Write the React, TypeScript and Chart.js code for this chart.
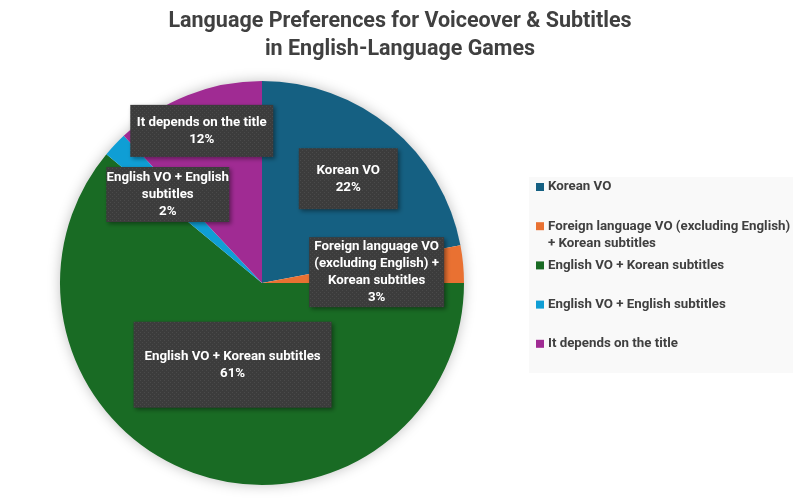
import { useEffect, useRef } from "react"
import { Chart, registerables } from "chart.js"

Chart.register(...registerables)

const categories = [
    "Korean VO",
    "Foreign language VO (excluding English) + Korean subtitles",
    "English VO + Korean subtitles",
    "English VO + English subtitles",
    "It depends on the title",
]
const shares = [22, 3, 61, 2, 12]
const colors = ["#156082", "#E97132", "#196B24", "#0F9ED5", "#A02B93"]
const titleLines = ["Language Preferences for Voiceover & Subtitles", "in English-Language Games"]

// data label boxes: distance along slice middle (share of radius), box size
const labelDist = [0.67, 0.57, 0.43, 0.64, 0.81]
const labelBoxW = [99, 135, 198, 123, 143]
const labelBoxH = [61, 70, 86, 55, 52]

const FONT = "Roboto"
const TEXT = "#404040"

function wrap(ctx: CanvasRenderingContext2D, text: string, maxW: number) {
    const words = text.split(" ")
    const lines: string[] = []
    let cur = ""
    for (const w of words) {
        const test = cur ? cur + " " + w : w
        if (cur && ctx.measureText(test).width > maxW) {
            lines.push(cur)
            cur = w
        } else {
            cur = test
        }
    }
    if (cur) lines.push(cur)
    return lines
}

function makePattern(ctx: CanvasRenderingContext2D) {
    const c = document.createElement("canvas")
    c.width = 4
    c.height = 4
    const p = c.getContext("2d")!
    p.fillStyle = "#3c3c3c"
    p.fillRect(0, 0, 4, 4)
    p.fillStyle = "#4a4a4a"
    p.fillRect(0, 0, 1, 1)
    p.fillRect(2, 2, 1, 1)
    return ctx.createPattern(c, "repeat")!
}

const chartTitle = {
    id: "chartTitle",
    afterDraw(chart: any) {
        const ctx: CanvasRenderingContext2D = chart.ctx
        ctx.save()
        ctx.font = `bold 21.5px ${FONT}`
        ctx.fillStyle = TEXT
        ctx.textAlign = "center"
        ctx.textBaseline = "middle"
        titleLines.forEach((l, k) => ctx.fillText(l, chart.width / 2, 22 + k * 28))
        ctx.restore()
    },
}

const pieShadow = {
    id: "pieShadow",
    beforeDatasetsDraw(chart: any) {
        const arc = chart.getDatasetMeta(0).data[0]
        if (!arc) return
        const ctx = chart.ctx
        ctx.save()
        ctx.shadowColor = "rgba(0,0,0,0.28)"
        ctx.shadowBlur = 14
        ctx.fillStyle = "#ffffff"
        ctx.beginPath()
        ctx.arc(arc.x, arc.y, arc.outerRadius - 1, 0, Math.PI * 2)
        ctx.fill()
        ctx.restore()
    },
}

const sliceLabels = {
    id: "sliceLabels",
    afterDatasetsDraw(chart: any) {
        const ctx: CanvasRenderingContext2D = chart.ctx
        const meta = chart.getDatasetMeta(0)
        const values: number[] = chart.data.datasets[0].data
        const total = values.reduce((a, b) => a + b, 0)
        const pattern = makePattern(ctx)
        meta.data.forEach((arc: any, i: number) => {
            const mid = (arc.startAngle + arc.endAngle) / 2
            const cx = arc.x + Math.cos(mid) * arc.outerRadius * labelDist[i]
            const cy = arc.y + Math.sin(mid) * arc.outerRadius * labelDist[i]
            const w = labelBoxW[i]
            const h = labelBoxH[i]
            ctx.save()
            ctx.shadowColor = "rgba(0,0,0,0.4)"
            ctx.shadowBlur = 4
            ctx.shadowOffsetX = 2
            ctx.shadowOffsetY = 2
            ctx.fillStyle = pattern
            ctx.fillRect(cx - w / 2, cy - h / 2, w, h)
            ctx.restore()

            ctx.save()
            ctx.font = `bold 13.3px ${FONT}`
            ctx.fillStyle = "#ffffff"
            ctx.textAlign = "center"
            ctx.textBaseline = "middle"
            const lines = wrap(ctx, chart.data.labels[i], w + 4)
            lines.push(Math.round((values[i] / total) * 100) + "%")
            const lh = 17
            const top = cy - ((lines.length - 1) * lh) / 2
            lines.forEach((l, k) => ctx.fillText(l, cx, top + k * lh))
            ctx.restore()
        })
    },
}

const sideLegend = {
    id: "sideLegend",
    afterDraw(chart: any) {
        const ctx: CanvasRenderingContext2D = chart.ctx
        const bx = 529, by = 177, bw = 264, bh = 196
        ctx.save()
        ctx.fillStyle = "#f9f9f9"
        ctx.fillRect(bx, by, bw, bh)
        const slot = bh / chart.data.labels.length
        ctx.font = `bold 13.3px ${FONT}`
        ctx.textBaseline = "middle"
        chart.data.labels.forEach((label: string, i: number) => {
            const y = by + i * slot + 10
            ctx.fillStyle = colors[i]
            ctx.fillRect(bx + 7, y - 4, 8, 8)
            ctx.fillStyle = TEXT
            const lines = wrap(ctx, label, 244)
            lines.forEach((l, k) => ctx.fillText(l, bx + 19, y + k * 17))
        })
        ctx.restore()
    },
}

export default function App() {
    const canvasRef = useRef<HTMLCanvasElement>(null)

    useEffect(() => {
        document.body.style.margin = "0"
        const ctx = canvasRef.current
        if (!ctx) return
        const chart = new Chart(ctx, {
            type: "pie",
            data: {
                labels: categories,
                datasets: [{
                    data: shares,
                    backgroundColor: colors,
                    borderWidth: 0,
                }],
            },
            options: {
                animation: false,
                responsive: false,
                layout: { padding: { top: 81, bottom: 15, left: 60, right: 336 } },
                plugins: {
                    legend: { display: false },
                    tooltip: { enabled: false },
                    title: { display: false },
                },
            },
            plugins: [pieShadow, sliceLabels, sideLegend, chartTitle],
        })
        return () => chart.destroy()
    }, [])

    return (
        <div style={{ width: 800, height: 500, background: "#fff" }}>
            <canvas ref={canvasRef} width={800} height={500}></canvas>
        </div>
    )
}
